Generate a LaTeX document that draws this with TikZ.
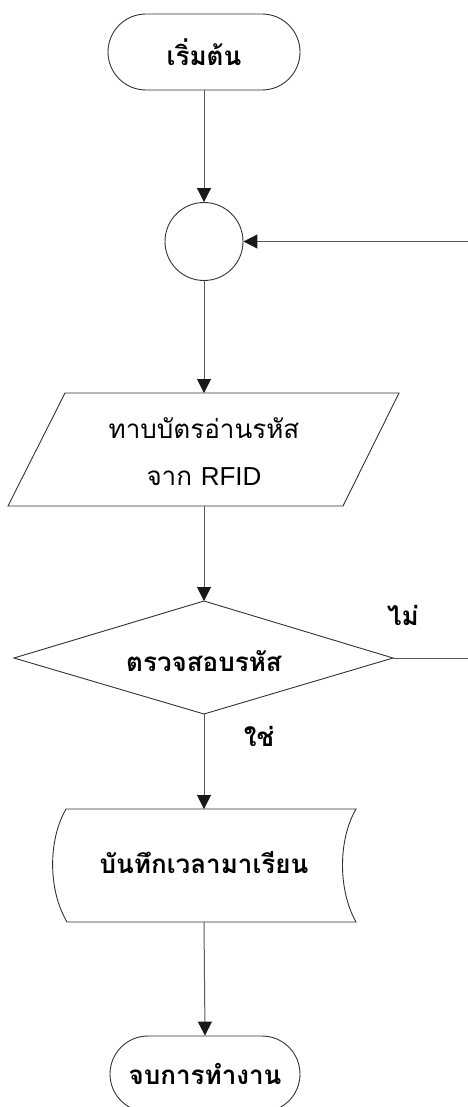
\documentclass[tikz,border=0pt]{standalone}
\usepackage{fontspec}
\setmainfont{Liberation Sans}
\newfontfamily\thai[Script=Thai]{Loma}
\usetikzlibrary{arrows.meta}
\tikzset{
  shapeline/.style={draw=black!80, line width=0.9pt},
  conn/.style={draw=black!65, line width=1pt, -{Triangle[length=14pt,width=14pt,color=black!90]}},
  plainconn/.style={draw=black!65, line width=1pt},
  lbl/.style={font=\thai\bfseries\fontsize{26}{30}\selectfont, inner sep=0pt},
  lblr/.style={font=\thai\fontsize{26}{47}\selectfont, inner sep=0pt, align=center},
}
\begin{document}
\begin{tikzpicture}[x=1pt,y=-1pt]
\useasboundingbox (0,0) rectangle (467,1107);
% start terminal
\node[shapeline, rounded corners=38pt, minimum width=192pt, minimum height=76pt, lbl] (start) at (204,52) {เริ่มต้น};
% connector circle
\node[shapeline, circle, minimum size=78pt, inner sep=0pt] (circ) at (204,241.5) {};
% input parallelogram
\draw[shapeline] (65,393) -- (399,393) -- (343,506) -- (8,506) -- cycle;
\coordinate (iotop) at (204,393);
\coordinate (iobot) at (204,506);
\node[lblr] (io) at (204,452) {ทาบบัตรอ่านรหัส\\จาก {\fontspec{Liberation Sans}RFID}};
% decision diamond
\draw[shapeline] (204,601) -- (393,658) -- (204,714) -- (14,658) -- cycle;
\coordinate (dtop) at (204,601);
\coordinate (dright) at (393,658);
\coordinate (dbot) at (204,714);
\node[lbl] (dec) at (204,661) {ตรวจสอบรหัส};
\node[lbl] (no) at (403,615) {ไม่};
\node[lbl] (yes) at (259,736) {ใช่};
% stored data
\draw[shapeline] (66,809) -- (356,809) .. controls (338,840) and (338,890) .. (356,922)
  -- (67,922) .. controls (48,890) and (48,840) .. (66,809) -- cycle;
\coordinate (sdtop) at (204,809);
\coordinate (sdbot) at (204,922);
\node[lbl] (sd) at (204,863) {บันทึกเวลามาเรียน};
% end terminal
\node[shapeline, rounded corners=38pt, minimum width=190pt, minimum height=76pt, lbl] (stop) at (205,1074) {จบการทำงาน};
% loop-back corners (just outside the right edge)
\coordinate (loopa) at (474,658);
\coordinate (loopb) at (474,241.5);
% connectors
\draw[conn] (start.south) -- (circ.north);
\draw[conn] (circ.south) -- (iotop);
\draw[conn] (iobot) -- (dtop);
\draw[conn] (dbot) -- (sdtop);
\draw[conn] (sdbot) -- (stop.north);
\draw[plainconn] (dright) -- (loopa) -- (loopb);
\draw[conn] (loopb) -- (circ.east);
\end{tikzpicture}
\end{document}
